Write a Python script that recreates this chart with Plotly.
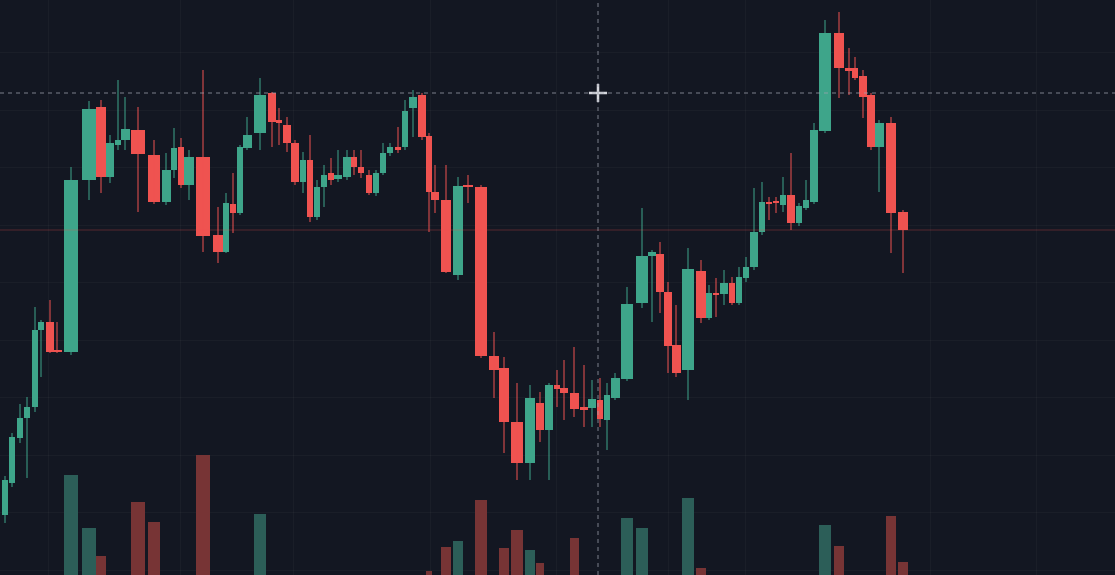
"""
Grafico de velas estilo terminal oscuro, con volumen y cruz del cursor.
"""

import plotly.graph_objects as go

# Tiempo de cada vela (minutos desde el inicio de la sesion)
tiempo = [5, 12, 20, 27, 35, 41, 50, 57, 71, 89,
          101, 110, 118, 125, 138, 154, 166, 174, 181, 189,
          203, 218, 226, 233, 240, 247, 260, 272, 279, 287,
          295, 303, 310, 317, 324, 331, 338, 347, 354, 361,
          369, 376, 383, 390, 398, 405, 413, 422, 429, 435,
          446, 458, 468, 481, 494, 504, 517, 530, 540, 549,
          557, 564, 574, 584, 592, 600, 607, 615, 627, 642,
          652, 660, 668, 676, 688, 701, 709, 716, 724, 732,
          739, 746, 754, 762, 769, 776, 783, 791, 799, 806,
          814, 825, 839, 849, 855, 863, 871, 879, 891, 903]

apertura = [2085, 2117, 2162, 2182, 2193, 2270, 2278, 2250, 2248, 2420,
            2493, 2423, 2455, 2460, 2470, 2445, 2398, 2430, 2453, 2415,
            2443, 2365, 2348, 2396, 2387, 2452, 2467, 2507, 2480, 2475,
            2457, 2418, 2440, 2383, 2413, 2427, 2421, 2423, 2443, 2433,
            2425, 2407, 2427, 2447, 2453, 2453, 2492, 2505, 2464, 2408,
            2400, 2325, 2415, 2413, 2244, 2232, 2178, 2137, 2197, 2170,
            2215, 2212, 2207, 2193, 2192, 2200, 2180, 2202, 2221, 2297,
            2344, 2346, 2308, 2255, 2230, 2329, 2282, 2307, 2306, 2317,
            2297, 2322, 2333, 2368, 2398, 2398, 2395, 2405, 2377, 2392,
            2398, 2469, 2567, 2532, 2532, 2524, 2505, 2453, 2477, 2388]

maximo = [2124, 2167, 2196, 2203, 2293, 2280, 2300, 2278, 2433, 2499,
          2500, 2465, 2520, 2503, 2493, 2460, 2447, 2472, 2462, 2450,
          2530, 2393, 2407, 2427, 2455, 2483, 2522, 2508, 2492, 2483,
          2460, 2448, 2465, 2420, 2435, 2442, 2450, 2450, 2450, 2450,
          2430, 2430, 2457, 2457, 2473, 2500, 2510, 2507, 2467, 2435,
          2435, 2423, 2425, 2415, 2268, 2243, 2217, 2215, 2208, 2217,
          2230, 2240, 2253, 2235, 2220, 2222, 2217, 2227, 2313, 2392,
          2350, 2358, 2318, 2295, 2352, 2340, 2315, 2322, 2330, 2323,
          2333, 2343, 2412, 2418, 2403, 2403, 2423, 2447, 2397, 2420,
          2477, 2580, 2588, 2552, 2543, 2530, 2507, 2480, 2483, 2390]

minimo = [2077, 2113, 2157, 2122, 2188, 2223, 2247, 2247, 2245, 2400,
          2407, 2417, 2450, 2450, 2388, 2396, 2395, 2422, 2412, 2400,
          2348, 2337, 2347, 2367, 2385, 2450, 2450, 2453, 2455, 2448,
          2415, 2407, 2378, 2380, 2393, 2415, 2418, 2420, 2425, 2422,
          2405, 2404, 2425, 2444, 2447, 2450, 2463, 2460, 2368, 2387,
          2327, 2320, 2397, 2242, 2202, 2147, 2120, 2120, 2158, 2120,
          2193, 2180, 2183, 2173, 2173, 2173, 2150, 2200, 2219, 2292,
          2278, 2287, 2227, 2223, 2200, 2277, 2280, 2283, 2295, 2295,
          2295, 2318, 2330, 2365, 2380, 2387, 2388, 2370, 2374, 2390,
          2396, 2467, 2502, 2505, 2520, 2482, 2450, 2408, 2347, 2327]

cierre = [2120, 2163, 2182, 2193, 2270, 2278, 2248, 2248, 2420, 2491,
          2423, 2457, 2460, 2471, 2446, 2398, 2430, 2452, 2415, 2443,
          2364, 2348, 2397, 2387, 2453, 2465, 2505, 2478, 2477, 2457,
          2418, 2440, 2383, 2413, 2425, 2420, 2425, 2443, 2433, 2427,
          2407, 2427, 2447, 2453, 2450, 2489, 2503, 2463, 2408, 2400,
          2328, 2414, 2413, 2244, 2230, 2178, 2137, 2202, 2170, 2215,
          2211, 2207, 2191, 2190, 2201, 2181, 2205, 2222, 2296, 2344,
          2348, 2308, 2254, 2227, 2331, 2282, 2307, 2305, 2317, 2297,
          2323, 2333, 2368, 2398, 2396, 2397, 2405, 2377, 2394, 2400,
          2470, 2567, 2532, 2529, 2522, 2503, 2453, 2477, 2387, 2370]

volumen = [30, 26, 22, 28, 35, 20, 24, 18, 145, 92,
           64, 38, 25, 30, 118, 98, 40, 33, 36, 28,
           165, 42, 40, 22, 38, 30, 106, 35, 20, 27,
           33, 24, 40, 31, 22, 18, 15, 26, 21, 19,
           28, 25, 30, 17, 16, 34, 29, 38, 49, 36,
           73, 79, 21, 120, 42, 72, 90, 70, 57, 40,
           23, 30, 82, 27, 24, 33, 38, 29, 102, 92,
           26, 41, 39, 35, 122, 52, 30, 18, 24, 27,
           31, 22, 40, 37, 15, 14, 26, 39, 25, 28,
           43, 95, 74, 22, 29, 34, 41, 37, 104, 58]

# Posicion del cursor (cruz)
cursor_tiempo = 598
cursor_precio = 2507

# Lineas de rejilla verticales
rejilla_tiempo = [48, 180, 293, 430, 556, 668, 745, 930, 1036]

FONDO = "#131722"
VERDE = "#3ea58a"
ROJO = "#ef5350"
VOL_VERDE = "#2c5e58"
VOL_ROJO = "#773435"

n = len(tiempo)

# ancho de cada vela a partir de la separacion con sus vecinas
anchos = []
for i in range(n):
    izq = tiempo[i] - tiempo[i - 1] if i > 0 else tiempo[i + 1] - tiempo[i]
    der = tiempo[i + 1] - tiempo[i] if i < n - 1 else izq
    anchos.append(0.45 * (izq + der))

sube = [cierre[i] >= apertura[i] for i in range(n)]

fig = go.Figure()

# Volumen (eje secundario, detras de las velas)
for es_sube, color in [(True, VOL_VERDE), (False, VOL_ROJO)]:
    idx = [i for i in range(n) if sube[i] == es_sube]
    fig.add_trace(go.Bar(
        x=[tiempo[i] for i in idx],
        y=[volumen[i] for i in idx],
        width=[anchos[i] for i in idx],
        marker=dict(color=color, line=dict(width=0)),
        yaxis="y2",
        hoverinfo="skip",
        showlegend=False,
    ))

# Mechas y cuerpos
for es_sube, color in [(True, VERDE), (False, ROJO)]:
    idx = [i for i in range(n) if sube[i] == es_sube]
    xs, ys = [], []
    for i in idx:
        xs += [tiempo[i], tiempo[i], None]
        ys += [minimo[i], maximo[i], None]
    fig.add_trace(go.Scatter(
        x=xs, y=ys, mode="lines",
        line=dict(color=color, width=1),
        hoverinfo="skip", showlegend=False,
    ))
    fig.add_trace(go.Bar(
        x=[tiempo[i] for i in idx],
        base=[min(apertura[i], cierre[i]) for i in idx],
        y=[max(abs(cierre[i] - apertura[i]), 1.5) for i in idx],
        width=[anchos[i] for i in idx],
        marker=dict(color=color, line=dict(width=0)),
        showlegend=False,
    ))

# Linea del ultimo precio
fig.add_shape(type="line", xref="paper", x0=0, x1=1, yref="y",
              y0=cierre[-1], y1=cierre[-1],
              line=dict(color="rgba(239,83,80,0.3)", width=1))

# Cruz del cursor
fig.add_shape(type="line", xref="paper", x0=0, x1=1, yref="y",
              y0=cursor_precio, y1=cursor_precio,
              line=dict(color="rgba(160,164,175,0.75)", width=1, dash="4px,4px"))
fig.add_shape(type="line", xref="x", x0=cursor_tiempo, x1=cursor_tiempo,
              yref="paper", y0=0, y1=1,
              line=dict(color="rgba(160,164,175,0.75)", width=1, dash="4px,4px"))
fig.add_trace(go.Scatter(
    x=[cursor_tiempo], y=[cursor_precio], mode="markers",
    marker=dict(symbol="cross-thin", size=13,
                line=dict(color="#d6d8de", width=2.5)),
    hoverinfo="skip", showlegend=False,
))

fig.update_layout(
    width=1115, height=575,
    margin=dict(l=0, r=0, t=0, b=0),
    paper_bgcolor=FONDO, plot_bgcolor=FONDO,
    barmode="overlay", bargap=0,
    showlegend=False,
    xaxis=dict(range=[0, 1115], tickvals=rejilla_tiempo, showticklabels=False,
               gridcolor="rgba(255,255,255,0.03)", zeroline=False,
               showline=False),
    yaxis=dict(range=[2025, 2600], tick0=2030, dtick=57.5, showticklabels=False,
               gridcolor="rgba(255,255,255,0.03)", zeroline=False,
               showline=False),
    yaxis2=dict(range=[45, 620], overlaying="y", showgrid=False,
                showticklabels=False, zeroline=False),
)

# sin margen del navegador alrededor del grafico
fig.write_html(
    "out.html",
    config={"displayModeBar": False},
    post_script="document.body.style.margin='0';"
                "document.body.style.background='#131722';",
)
